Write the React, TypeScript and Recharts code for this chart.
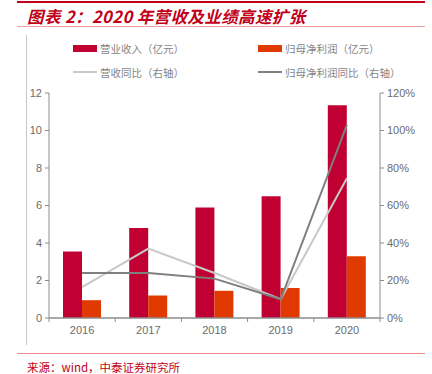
import { ComposedChart, Bar, Line, XAxis, YAxis } from 'recharts'

const years = ['2016', '2017', '2018', '2019', '2020']
const revenue = [3.55, 4.8, 5.9, 6.5, 11.35]
const profit = [0.95, 1.2, 1.45, 1.6, 3.3]
const revenueYoy = [16.5, 37, 24, 10, 74.5]
const profitYoy = [24, 24, 21, 10, 103]
const leftTicks = [0, 2, 4, 6, 8, 10, 12]
const rightTicks = [0, 20, 40, 60, 80, 100, 120]

const data = years.map((y, i) => ({
  year: y,
  revenue: revenue[i],
  profit: profit[i],
  revenueYoy: revenueYoy[i],
  profitYoy: profitYoy[i],
}))

const W = 432
const H = 374
const PLOT_L = 49
const PLOT_R = 380
const BAND = (PLOT_R - PLOT_L) / years.length

const tickFont = { fontSize: 11, fill: '#6b6b6b', fontFamily: 'Liberation Sans, Arial, sans-serif' }
const cjk = '"Noto Sans CJK SC", sans-serif'

function XTick(props: any) {
  const { x, y, payload, index } = props
  const left = x - BAND / 2
  return (
    <g>
      <line x1={left} y1={y - 8} x2={left} y2={y - 4} stroke="#8c8c8c" />
      {index === years.length - 1 && (
        <line x1={x + BAND / 2} y1={y - 8} x2={x + BAND / 2} y2={y - 4} stroke="#8c8c8c" />
      )}
      <text x={x} y={y + 8} textAnchor="middle" {...tickFont}>
        {payload.value}
      </text>
    </g>
  )
}

function LegendItem({ x, y, color, line, label }: { x: number; y: number; color: string; line?: boolean; label: string }) {
  return (
    <div style={{ position: 'absolute', left: x, top: y - 8, height: 16, display: 'flex', alignItems: 'center' }}>
      <div style={{ width: 24, height: line ? 2 : 7, background: color, marginRight: 3 }} />
      <span style={{ fontFamily: cjk, fontSize: 10.5, color: '#858585', whiteSpace: 'nowrap' }}>{label}</span>
    </div>
  )
}

export default function App() {
  return (
    <div style={{ position: 'absolute', left: 0, top: 0, width: W, height: H, background: '#fff', overflow: 'hidden' }}>
      <div style={{ position: 'absolute', left: 17, top: 1, width: 408, height: 2, background: '#c4001a' }} />
      <div
        style={{
          position: 'absolute', left: 27, top: 4, fontFamily: cjk, fontSize: 16.5, fontWeight: 700,
          fontStyle: 'italic', color: '#c00018', whiteSpace: 'nowrap', letterSpacing: 0.4,
        }}
      >
        图表 2：2020 年营收及业绩高速扩张
      </div>
      <div style={{ position: 'absolute', left: 17, top: 26, width: 408, height: 1, background: '#f0a0a0' }} />
      <div style={{ position: 'absolute', left: 26, top: 35, width: 1, height: 310, background: '#c8c8c8' }} />

      <LegendItem x={73} y={48} color="#c00032" label="营业收入（亿元）" />
      <LegendItem x={258} y={48} color="#e03a00" label="归母净利润（亿元）" />
      <LegendItem x={73} y={72} color="#c8c8c8" line label="营收同比（右轴）" />
      <LegendItem x={258} y={72} color="#7f7f7f" line label="归母净利润同比（右轴）" />

      <div style={{ position: 'absolute', left: 0, top: 0 }}>
        <ComposedChart
          width={W}
          height={H}
          data={data}
          margin={{ top: 93, right: 7, bottom: 36, left: 19 }}
          barGap={0}
        >
          <XAxis
            dataKey="year"
            axisLine={{ stroke: '#8c8c8c', strokeWidth: 1.5 }}
            tickLine={false}
            tick={<XTick />}
            height={20}
            interval={0}
          />
          <YAxis
            yAxisId="left"
            domain={[0, 12]}
            ticks={leftTicks}
            width={30}
            axisLine={{ stroke: '#8c8c8c' }}
            tickLine={{ stroke: '#8c8c8c' }}
            tickSize={4}
            tick={tickFont}
            tickMargin={3}
          />
          <YAxis
            yAxisId="right"
            orientation="right"
            domain={[0, 120]}
            ticks={rightTicks}
            tickFormatter={(v) => `${v}%`}
            width={45}
            axisLine={{ stroke: '#8c8c8c' }}
            tickLine={{ stroke: '#8c8c8c' }}
            tickSize={4}
            tick={{ ...tickFont, textAnchor: 'start' }}
            tickMargin={3}
          />
          <Bar yAxisId="left" dataKey="revenue" fill="#c00032" barSize={19} isAnimationActive={false} />
          <Bar yAxisId="left" dataKey="profit" fill="#e03a00" barSize={19} isAnimationActive={false} />
          <Line yAxisId="right" type="linear" dataKey="revenueYoy" stroke="#c8c8c8" strokeWidth={2} dot={false} isAnimationActive={false} />
          <Line yAxisId="right" type="linear" dataKey="profitYoy" stroke="#7f7f7f" strokeWidth={2} dot={false} isAnimationActive={false} />
        </ComposedChart>
      </div>

      <div style={{ position: 'absolute', left: 17, top: 353, width: 408, height: 1, background: '#ee8a8a' }} />
      <div style={{ position: 'absolute', left: 27, top: 359, fontFamily: cjk, fontSize: 11.5, color: '#c00018', whiteSpace: 'nowrap' }}>
        来源：wind，中泰证券研究所
      </div>
    </div>
  )
}
